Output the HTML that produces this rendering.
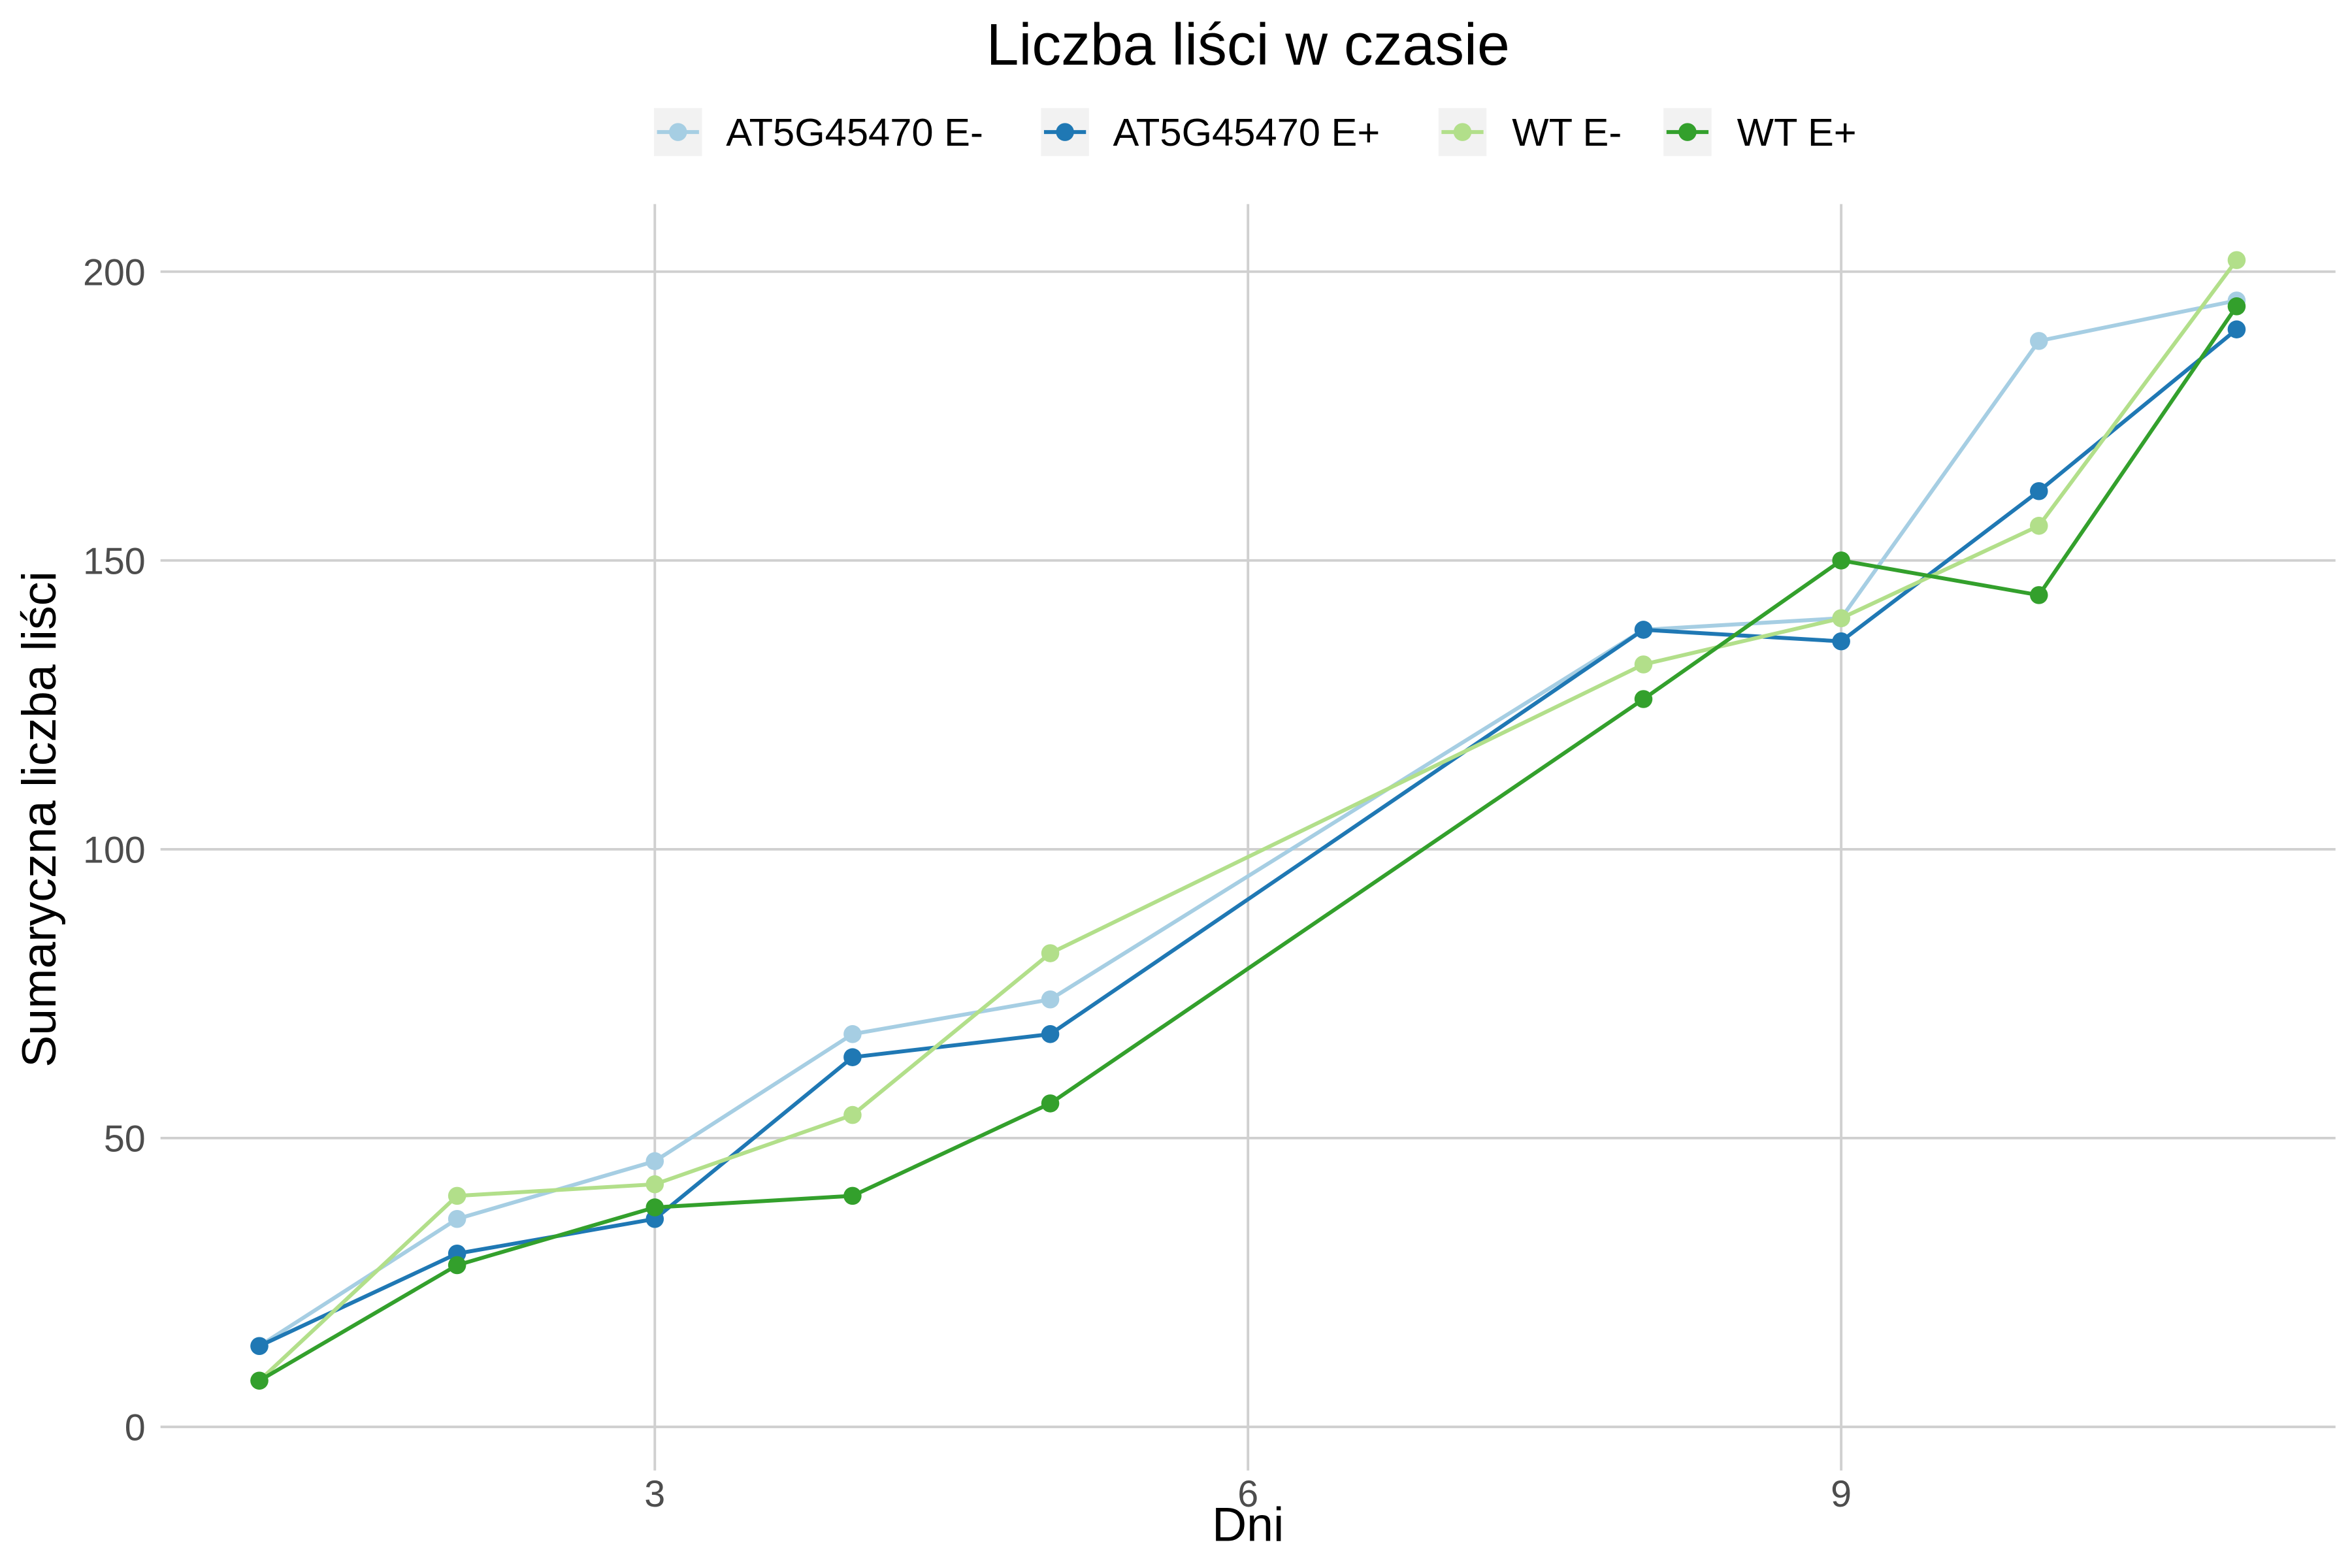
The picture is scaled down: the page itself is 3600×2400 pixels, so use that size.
<!DOCTYPE html>
<html><head><meta charset="utf-8"><style>html,body{margin:0;padding:0;background:#fff}svg{display:block}text{font-family:"Liberation Sans",sans-serif}</style></head>
<body>
<svg id="chart" width="3600" height="2400" viewBox="0 0 1568 1045" preserveAspectRatio="none" xmlns="http://www.w3.org/2000/svg">
<rect width="1568" height="1045" fill="#fff"/>
<text x="832" y="43" font-size="39" text-anchor="middle" fill="#000">Liczba liści w czasie</text>
<g id="grid"></g><g id="series"></g><g id="axes"></g><g id="legend"></g>
<text x="832" y="1027" font-size="32" text-anchor="middle" fill="#000">Dni</text>
<text transform="translate(37,546) rotate(-90)" font-size="32" text-anchor="middle" fill="#000">Sumaryczna liczba liści</text>
</svg>
<script>
const days = [1,2,3,4,5,8,9,10,11];
const seriesNames = ["AT5G45470 E-","AT5G45470 E+","WT E-","WT E+"];
const atEminus = [14,36,46,68,74,138,140,188,195];
const atEplus = [14,30,36,64,68,138,136,162,190];
const wtEminus = [8,40,42,54,82,132,140,156,202];
const wtEplus = [8,28,38,40,56,126,150,144,194];
const xTicks = [3,6,9];
const yTicks = [0,50,100,150,200];
const colors = ["#a6cee3","#1f78b4","#b2df8a","#33a02c"];
const NS="http://www.w3.org/2000/svg";
const L=107,R=1557,T=136,B=980;
const xMin=0.5,xMax=11.5,yMin=-1.7,yMax=211.7;
function sx(v){return L+(v-xMin)/(xMax-xMin)*(R-L);}
function sy(v){return 957.5-(v-yMin)/(yMax-yMin)*(957.5-T);}
function mk(tag,attrs,parent){const e=document.createElementNS(NS,tag);for(const k in attrs)e.setAttribute(k,attrs[k]);parent.appendChild(e);return e;}
const grid=document.getElementById('grid'),axes=document.getElementById('axes'),ser=document.getElementById('series'),leg=document.getElementById('legend');
yTicks.forEach(t=>{
 const l=mk('line',{x1:L,x2:R,y1:sy(t),y2:sy(t),stroke:'#d0d0d0','stroke-width':1.7},grid);
 
 
 const tx=mk('text',{x:97,y:sy(t)+9,'font-size':25,'text-anchor':'end',fill:'#4d4d4d'},axes);
 tx.textContent=t;
 
 
});
xTicks.forEach(t=>{
 const l=mk('line',{x1:sx(t),x2:sx(t),y1:T,y2:B,stroke:'#d0d0d0','stroke-width':1.7},grid);
 
 
 const tx=mk('text',{x:sx(t),y:1004,'font-size':25,'text-anchor':'middle',fill:'#4d4d4d'},axes);
 tx.textContent=t;
 
 
});
const allSeries=[atEminus,atEplus,wtEminus,wtEplus];
allSeries.forEach((vals,i)=>{
 const g=mk('g',{},ser);
 
 
 const pts=vals.map((v,j)=>sx(days[j])+','+sy(v)).join(' ');
 const pl=mk('polyline',{points:pts,fill:'none',stroke:colors[i],'stroke-width':2.6},g);
 
 
 vals.forEach((v,j)=>{
  const c=mk('circle',{cx:sx(days[j]),cy:sy(v),r:6,fill:colors[i]},g);
  
  
 });
});
const legX=[436,694,959,1109];
const textX=[484,742,1008,1158];
seriesNames.forEach((n,i)=>{
 const g=mk('g',{},leg);
 
 
 mk('rect',{x:legX[i],y:72,width:32,height:32,fill:'#f2f2f2'},g);
 mk('line',{x1:legX[i]+2,x2:legX[i]+30,y1:88,y2:88,stroke:colors[i],'stroke-width':2.6},g);
 mk('circle',{cx:legX[i]+16,cy:88,r:6,fill:colors[i]},g);
 const t=mk('text',{x:textX[i],y:97,'font-size':26,fill:'#000'},g);
 t.textContent=n;
});
</script>
</body></html>
